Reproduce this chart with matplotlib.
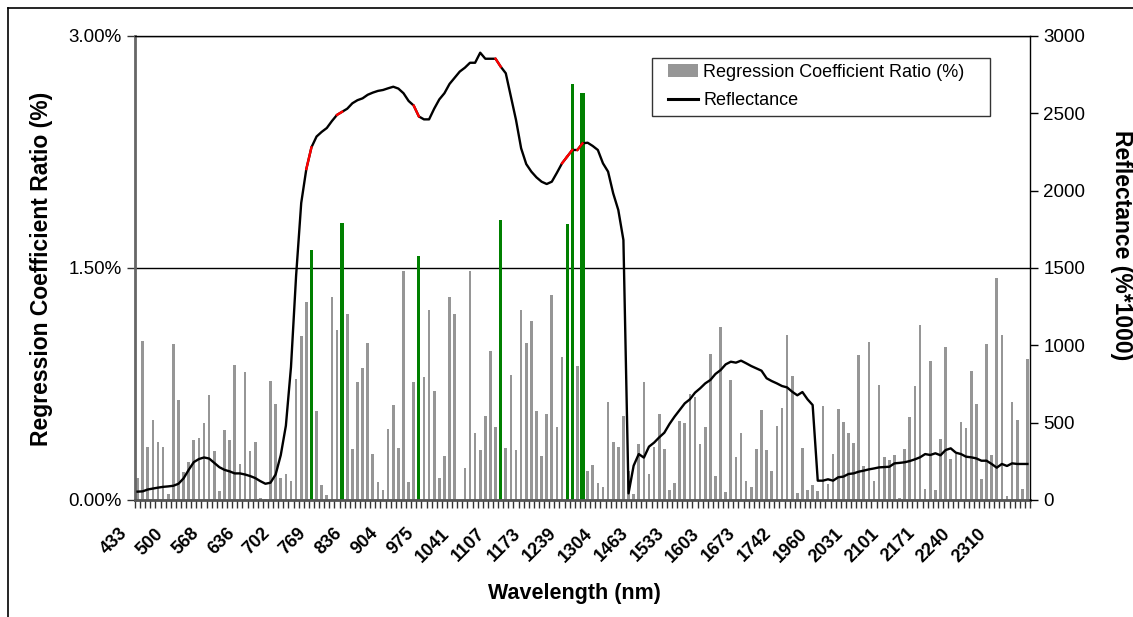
import numpy as np
import matplotlib.pyplot as plt
from matplotlib.lines import Line2D
from matplotlib.patches import Patch, Rectangle
from matplotlib.ticker import FuncFormatter
from matplotlib.transforms import ScaledTranslation

plt.rcParams['font.family'] = ['Liberation Sans', 'DejaVu Sans']

# every 7th band carries a label
tick_labels = ['433', '500', '568', '636', '702', '769', '836', '904', '975',
               '1041', '1107', '1173', '1239', '1304', '1463', '1533', '1603',
               '1673', '1742', '1960', '2031', '2101', '2171', '2240', '2310']

# regression coefficient ratio (%) for each of the 175 bands
ratio = [0.14, 1.03, 0.345, 0.52, 0.375, 0.345, 0.04, 1.01, 0.646, 0.18,
         0.245, 0.39, 0.40, 0.50, 0.68, 0.32, 0.058, 0.45, 0.39, 0.87,
         0.23, 0.83, 0.32, 0.375, 0.013, 0.006, 0.77, 0.62, 0.14, 0.17,
         0.12, 0.78, 1.06, 1.28, 1.616, 0.575, 0.097, 0.03, 1.31, 1.10,
         1.79, 1.20, 0.33, 0.765, 0.853, 1.017, 0.297, 0.116, 0.065, 0.46,
         0.614, 0.338, 1.48, 0.116, 0.765, 1.577, 0.797, 1.23, 0.707, 0.142,
         0.286, 1.31, 1.20, 0.0, 0.207, 1.48, 0.435, 0.323, 0.543, 0.963,
         0.474, 1.81, 0.336, 0.808, 0.323, 1.228, 1.017, 1.157, 0.575, 0.286,
         0.556, 1.325, 0.474, 0.924, 1.784, 2.69, 0.866, 2.63, 0.187, 0.226,
         0.112, 0.084, 0.634, 0.375, 0.345, 0.543, 0.187, 0.039, 0.362, 0.762,
         0.168, 0.345, 0.556, 0.33, 0.065, 0.112, 0.51, 0.497, 0.685, 0.668,
         0.362, 0.472, 0.944, 0.155, 1.118, 0.05, 0.776, 0.28, 0.43, 0.123,
         0.084, 0.33, 0.58, 0.323, 0.187, 0.478, 0.595, 1.067, 0.80, 0.045,
         0.336, 0.065, 0.10, 0.058, 0.608, 0.103, 0.297, 0.588, 0.504, 0.435,
         0.366, 0.937, 0.22, 1.02, 0.123, 0.743, 0.28, 0.258, 0.29, 0.01,
         0.33, 0.537, 0.737, 1.131, 0.071, 0.898, 0.065, 0.394, 0.989, 0.265,
         0.297, 0.504, 0.465, 0.836, 0.62, 0.136, 1.008, 0.29, 1.435, 1.067,
         0.026, 0.634, 0.517, 0.071, 0.911]

# selected bands (green bars, red line segments)
selected = [34, 40, 55, 71, 84, 85, 87]

# reflectance (%*1000)
reflectance = [54, 56, 68, 74, 80, 85, 88, 92, 105, 140,
               195, 245, 265, 275, 268, 240, 212, 195, 185, 172,
               172, 165, 155, 142, 122, 105, 112, 165, 290, 480,
               860, 1450, 1920, 2140, 2280, 2350, 2380, 2405, 2450, 2490,
               2510, 2530, 2565, 2585, 2597, 2620, 2634, 2645, 2651, 2662,
               2672, 2660, 2630, 2580, 2550, 2480, 2461, 2461, 2530, 2590,
               2630, 2690, 2730, 2770, 2795, 2827, 2827, 2892, 2853, 2853,
               2853, 2802, 2759, 2608, 2457, 2274, 2172, 2123, 2086, 2058,
               2043, 2058, 2116, 2177, 2220, 2263, 2263, 2306, 2310, 2289,
               2263, 2177, 2123, 1983, 1875, 1681, 43, 222, 297, 274,
               345, 371, 405, 435, 491, 539, 582, 625, 651, 694,
               722, 754, 776, 815, 840, 877, 894, 888, 901, 884,
               866, 851, 836, 787, 769, 754, 737, 728, 700, 677,
               698, 651, 614, 125, 125, 134, 125, 147, 151, 168,
               172, 183, 190, 198, 204, 211, 213, 215, 237, 240,
               244, 252, 263, 276, 297, 291, 302, 289, 323, 334,
               306, 297, 280, 276, 269, 254, 254, 233, 209, 233,
               220, 237, 233, 233, 233]

n = len(ratio)
x = np.arange(n)
colors = ['#008000' if i in selected else '#969696' for i in x]
widths = [0.52] * n
for i in selected:
    widths[i] = 0.62
widths[40] = widths[87] = 0.8   # these two look heavier in the original

fig = plt.figure(figsize=(11.33, 6.17), dpi=100)
ax = fig.add_axes([135 / 1133, 1 - 500 / 617, 895 / 1133, 464 / 617])
ax2 = ax.twinx()

ax.bar(x, ratio, width=widths, color=colors, zorder=2)
ax.set_xlim(-0.5, n - 0.5)
ax.set_ylim(0, 3)
ax.set_yticks([0, 1.5, 3])
ax.yaxis.set_major_formatter(FuncFormatter(lambda v, p: '%.2f%%' % v))
ax.grid(axis='y', color='black', lw=1, zorder=1)
ax.set_axisbelow(True)

# category ticks between bars, labels drawn by hand so they can be nudged
ax.set_xticks(np.arange(-0.5, n, 1))
ax.set_xticklabels([])
ax.tick_params(axis='x', length=6, width=1, color='#333333')
off = ScaledTranslation(-13 / 100, -31 / 100, fig.dpi_scale_trans)
for k, lab in enumerate(tick_labels):
    ax.text(7 * k, 0, lab, transform=ax.get_xaxis_transform() + off,
            rotation=45, ha='right', va='center', rotation_mode='anchor',
            fontsize=13, fontweight='bold')
ax.tick_params(axis='y', length=6, width=1, labelsize=13.5, color='#333333')

ax.spines['top'].set_color('black')
ax.spines['top'].set_linewidth(1)
ax.spines['left'].set_color('#666666')
ax.spines['left'].set_linewidth(2)
ax.spines['bottom'].set_color('#555555')
ax.spines['bottom'].set_linewidth(2)
ax.spines['right'].set_visible(False)
for s in ['left', 'bottom', 'top']:
    ax2.spines[s].set_visible(False)
ax2.spines['right'].set_color('black')
ax2.spines['right'].set_linewidth(1)

ax2.plot(x, reflectance, color='black', lw=1.7, zorder=3)
for g in selected:
    ax2.plot([g - 1, g], [reflectance[g - 1], reflectance[g]], color='red', lw=1.7, zorder=4)
ax2.set_ylim(0, 3000)
ax2.set_yticks(np.arange(0, 3001, 500))
ax2.tick_params(axis='y', length=6, width=1, labelsize=13.5)

fig.text(42 / 1133, 1 - 269 / 617, 'Regression Coefficient Ratio (%)', rotation=90,
         ha='center', va='center', fontsize=16.5, fontweight='bold')
fig.text(1121 / 1133, 1 - 245 / 617, 'Reflectance (%*1000)', rotation=270,
         ha='center', va='center', fontsize=16.5, fontweight='bold')
fig.text(574 / 1133, 1 - 593 / 617, 'Wavelength (nm)', ha='center', va='center',
         fontsize=15.5, fontweight='bold')

handles = [Patch(facecolor='#969696', edgecolor='none'),
           Line2D([], [], color='black', lw=2.2)]
leg = ax2.legend(handles, ['Regression Coefficient Ratio (%)', 'Reflectance'],
                 loc='upper left', bbox_to_anchor=((668 - 135) / 895, (500 - 64) / 464),
                 borderaxespad=0, fontsize=13, frameon=False,
                 handlelength=1.65, handleheight=0.7, handletextpad=0.3,
                 borderpad=0, labelspacing=0.6)
fig.add_artist(Rectangle((652 / 1133, 1 - 116 / 617), 338 / 1133, 58 / 617,
                         fill=False, edgecolor='#333333', lw=1,
                         transform=fig.transFigure))

# chart area border
fig.add_artist(Line2D([8 / 1133, 8 / 1133], [0, 1 - 8 / 617], color='black', lw=1.2,
                      transform=fig.transFigure))
fig.add_artist(Line2D([8 / 1133, 1], [1 - 8 / 617, 1 - 8 / 617], color='black', lw=1.2,
                      transform=fig.transFigure))

fig.savefig('out.png', dpi=100)
